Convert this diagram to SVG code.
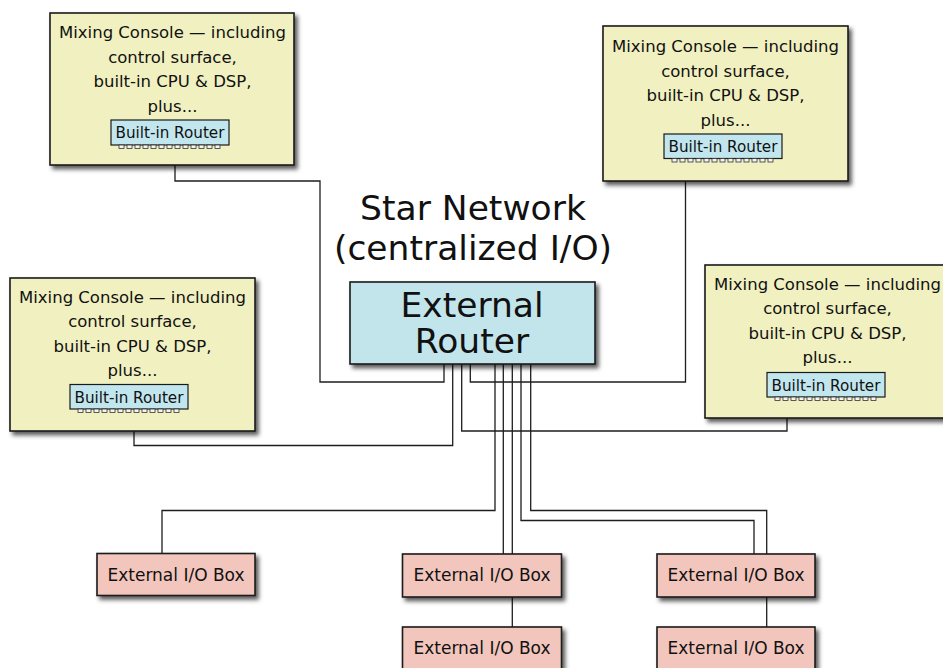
<svg xmlns="http://www.w3.org/2000/svg" xmlns:xlink="http://www.w3.org/1999/xlink" width="943" height="668" viewBox="0 0 943 668">
<style>
text{font-family:"DejaVu Sans","Liberation Sans",sans-serif;fill:#111;text-anchor:middle}
.console{fill:#f0f0c0;stroke:#1a1a1a;stroke-width:1.6;filter:url(#sh)}
.brouter{fill:#c2e6ee;stroke:#1a1a1a;stroke-width:1.2}
.erouter{fill:#c2e5ec;stroke:#1a1a1a;stroke-width:1.6;filter:url(#sh)}
.io{fill:#f2c6bd;stroke:#1a1a1a;stroke-width:1.6;filter:url(#sh)}
.ct{font-size:16.5px}
.bt{font-size:15.2px}
.iot{font-size:17px}
.big{font-size:34.5px}
.wire{fill:none;stroke:#1e1e1e;stroke-width:1.3}
.port{fill:#f4f4f4;stroke:#333;stroke-width:0.8}
</style>
<defs>
<filter id="sh" x="-10%" y="-10%" width="130%" height="140%">
<feDropShadow dx="3" dy="3.5" stdDeviation="2" flood-color="#000" flood-opacity="0.65"/>
</filter>
<g id="ports">
<rect class="port" x="8" y="0" width="5" height="3.5"/><rect class="port" x="16" y="0" width="5" height="3.5"/><rect class="port" x="24" y="0" width="5" height="3.5"/><rect class="port" x="32" y="0" width="5" height="3.5"/><rect class="port" x="40" y="0" width="5" height="3.5"/><rect class="port" x="48" y="0" width="5" height="3.5"/><rect class="port" x="56" y="0" width="5" height="3.5"/><rect class="port" x="64" y="0" width="5" height="3.5"/><rect class="port" x="72" y="0" width="5" height="3.5"/><rect class="port" x="80" y="0" width="5" height="3.5"/><rect class="port" x="88" y="0" width="5" height="3.5"/><rect class="port" x="96" y="0" width="5" height="3.5"/><rect class="port" x="104" y="0" width="5" height="3.5"/>
</g>
</defs>
<rect width="943" height="668" fill="#fff"/>

<g id="connectors">
<path class="wire" d="M175,148.5 V181 H320 V382 H444 V364"/>
<path class="wire" d="M134,412.5 V445.5 H452.7 V364"/>
<path class="wire" d="M787,400.5 V431 H461.7 V364"/>
<path class="wire" d="M685.5,162 V382 H470.3 V364"/>
<path class="wire" d="M495,364 V510.5 H162 V553"/>
<path class="wire" d="M503.3,364 V554"/>
<path class="wire" d="M512.3,364 V554"/>
<path class="wire" d="M521,364 V520.5 H754 V554"/>
<path class="wire" d="M530.7,364 V510.5 H766.7 V554"/>
<path class="wire" d="M512.3,597 V627"/>
<path class="wire" d="M766.7,597 V627"/>
</g>

<g id="console-top-left">
<rect class="console" x="50" y="13" width="244" height="152"/>
<text class="ct" x="172.5" y="37.5">Mixing Console — including</text>
<text class="ct" x="172.5" y="62.5">control surface,</text>
<text class="ct" x="172.5" y="87">built-in CPU &amp; DSP,</text>
<text class="ct" x="172.5" y="111.5">plus...</text>
<g id="router-top-left">
<rect class="brouter" x="111" y="120" width="118" height="25"/>
<text class="bt" x="170" y="138">Built-in Router</text>
<use xlink:href="#ports" x="111" y="145"/>
</g>
</g>

<g id="console-top-right">
<rect class="console" x="603" y="26" width="245" height="155"/>
<text class="ct" x="725.5" y="51.5">Mixing Console — including</text>
<text class="ct" x="725.5" y="76.5">control surface,</text>
<text class="ct" x="725.5" y="101">built-in CPU &amp; DSP,</text>
<text class="ct" x="725.5" y="125.5">plus...</text>
<g id="router-top-right">
<rect class="brouter" x="664" y="134" width="118" height="24.5"/>
<text class="bt" x="723" y="152">Built-in Router</text>
<use xlink:href="#ports" x="664" y="158.5"/>
</g>
</g>

<g id="console-left">
<rect class="console" x="10" y="278" width="245" height="153"/>
<text class="ct" x="132.5" y="302.5">Mixing Console — including</text>
<text class="ct" x="132.5" y="327">control surface,</text>
<text class="ct" x="132.5" y="351.5">built-in CPU &amp; DSP,</text>
<text class="ct" x="132.5" y="376">plus...</text>
<g id="router-left">
<rect class="brouter" x="70" y="384.5" width="118" height="24.5"/>
<text class="bt" x="129" y="402.5">Built-in Router</text>
<use xlink:href="#ports" x="70" y="409"/>
</g>
</g>

<g id="console-right">
<rect class="console" x="705" y="265" width="245" height="153"/>
<text class="ct" x="827.5" y="289.5">Mixing Console — including</text>
<text class="ct" x="827.5" y="314">control surface,</text>
<text class="ct" x="827.5" y="338.5">built-in CPU &amp; DSP,</text>
<text class="ct" x="827.5" y="363">plus...</text>
<g id="router-right">
<rect class="brouter" x="767" y="372.5" width="118" height="24.5"/>
<text class="bt" x="826" y="390.5">Built-in Router</text>
<use xlink:href="#ports" x="767" y="397"/>
</g>
</g>

<g id="title">
<text class="big" x="473" y="219.5">Star Network</text>
<text class="big" x="473" y="259.5">(centralized I/O)</text>
</g>

<g id="external-router">
<rect class="erouter" x="350" y="282" width="245" height="82"/>
<text class="big" x="472" y="316.5">External</text>
<text class="big" x="472" y="353">Router</text>
</g>

<g id="io-left">
<rect class="io" x="97" y="553.5" width="158" height="42"/>
<text class="iot" x="176" y="580.5">External I/O Box</text>
</g>
<g id="io-mid-1">
<rect class="io" x="402.5" y="554" width="159" height="43"/>
<text class="iot" x="482" y="581">External I/O Box</text>
</g>
<g id="io-mid-2">
<rect class="io" x="402.5" y="627" width="159" height="43"/>
<text class="iot" x="482" y="654">External I/O Box</text>
</g>
<g id="io-right-1">
<rect class="io" x="657" y="554" width="158" height="43"/>
<text class="iot" x="736" y="581">External I/O Box</text>
</g>
<g id="io-right-2">
<rect class="io" x="657" y="627" width="158" height="43"/>
<text class="iot" x="736" y="654">External I/O Box</text>
</g>
</svg>
